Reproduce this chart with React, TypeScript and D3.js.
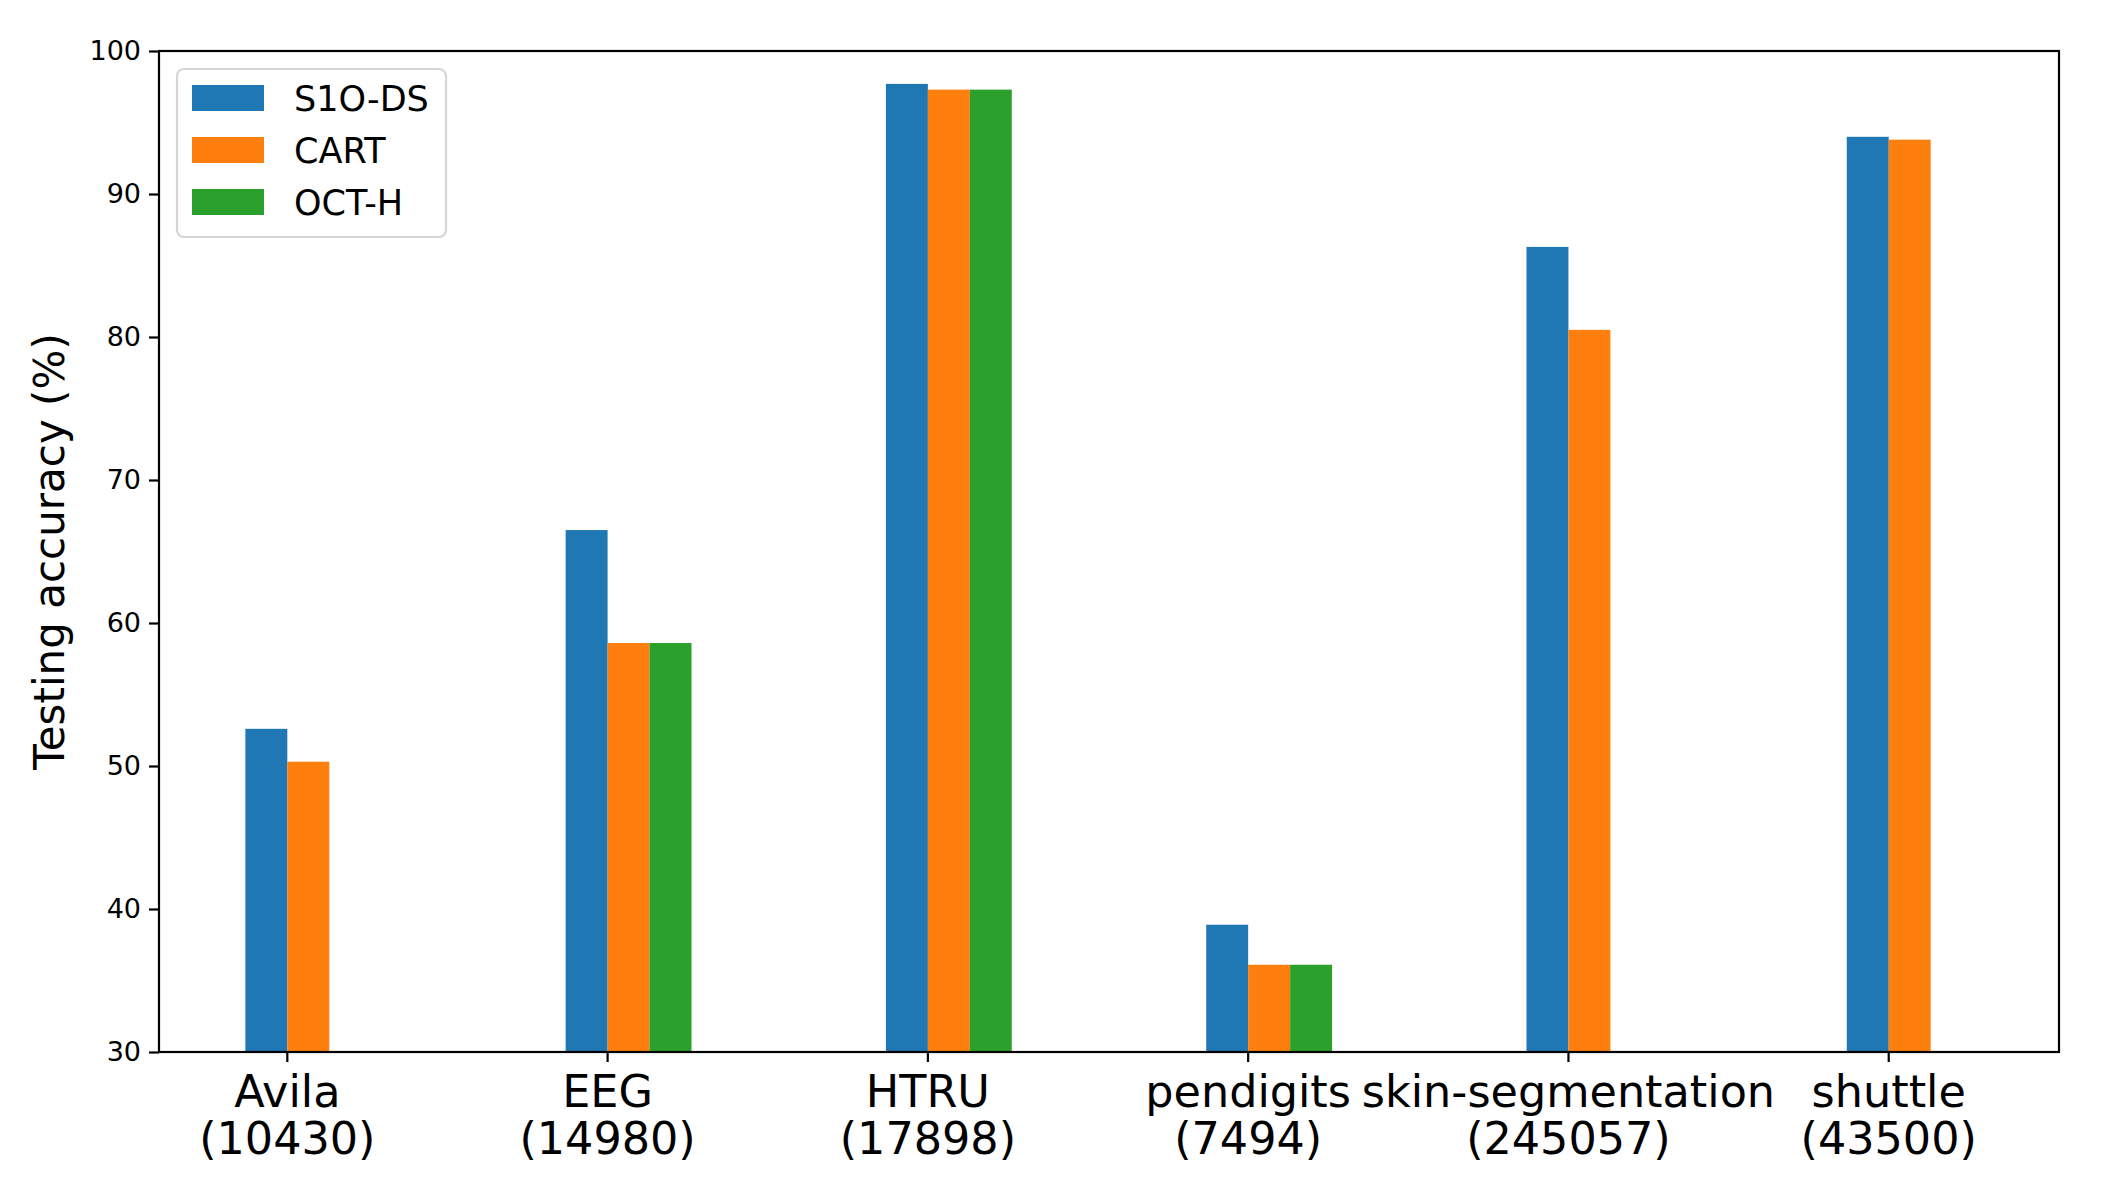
import { useEffect, useRef } from 'react';
import * as d3 from 'd3';

const datasetNames = ['Avila', 'EEG', 'HTRU', 'pendigits', 'skin-segmentation', 'shuttle'];
const sampleCounts = ['10430', '14980', '17898', '7494', '245057', '43500'];

const seriesNames = ['S1O-DS', 'CART', 'OCT-H'];
const seriesColors = ['#1f77b4', '#ff7f0e', '#2ca02c'];

// testing accuracy (%), null = no bar shown
const s1oDs = [52.6, 66.5, 97.7, 38.9, 86.3, 94.0];
const cart = [50.3, 58.6, 97.3, 36.1, 80.5, 93.8];
const octH: (number | null)[] = [null, 58.6, 97.3, 36.1, null, null];

const yTicks = [30, 40, 50, 60, 70, 80, 90, 100];

export default function App() {
    const svgRef = useRef<SVGSVGElement>(null);

    useEffect(() => {
        document.body.style.margin = '0';
        if (!svgRef.current) return;

        const W = 2120, H = 1196;
        const plot = { left: 159, right: 2059, top: 51, bottom: 1052 };
        const barW = 0.131;
        const font = 'DejaVu Sans, sans-serif';

        const svg = d3.select(svgRef.current);
        svg.selectAll('*').remove();
        svg.append('rect').attr('width', W).attr('height', H).attr('fill', '#fff');

        // matplotlib-style autoscale: 5% margin around the bar extent
        const lo = -barW, hi = datasetNames.length - 1 + 2 * barW;
        const pad = (hi - lo) * 0.05;
        const x = d3.scaleLinear().domain([lo - pad, hi + pad]).range([plot.left, plot.right]);
        const y = d3.scaleLinear().domain([30, 100]).range([plot.bottom, plot.top]);

        const series = [s1oDs, cart, octH];
        const offsets = [-barW, 0, barW];

        // Bars
        series.forEach((vals, si) => {
            const rows = vals.map((v, i) => ({ i, v })).filter(d => d.v != null) as { i: number; v: number }[];
            svg.append('g')
                .selectAll('rect')
                .data(rows)
                .join('rect')
                .attr('x', d => x(d.i + offsets[si]))
                .attr('width', d => x(d.i + offsets[si] + barW) - x(d.i + offsets[si]))
                .attr('y', d => y(d.v))
                .attr('height', d => y(30) - y(d.v))
                .attr('fill', seriesColors[si]);
        });

        // Y axis
        const yAxis = d3.axisLeft(y).tickValues(yTicks).tickSize(10).tickPadding(8).tickFormat(d3.format('d'));
        svg.append('g')
            .attr('transform', `translate(${plot.left},0)`)
            .call(yAxis)
            .call(g => g.select('.domain').remove())
            .call(g => g.selectAll('line').attr('stroke', '#000').attr('stroke-width', 2.2))
            .selectAll('text')
            .attr('font-family', font).attr('font-size', 27).attr('fill', '#000');

        // X ticks + two-line labels
        const xg = svg.append('g');
        datasetNames.forEach((name, i) => {
            const cx = x(i);
            xg.append('line')
                .attr('x1', cx).attr('x2', cx)
                .attr('y1', plot.bottom).attr('y2', plot.bottom + 10)
                .attr('stroke', '#000').attr('stroke-width', 2.2);
            const t = xg.append('text')
                .attr('text-anchor', 'middle')
                .attr('font-family', font).attr('font-size', 44.5).attr('fill', '#000');
            t.append('tspan').attr('x', cx).attr('y', plot.bottom + 55).text(name);
            t.append('tspan').attr('x', cx).attr('y', plot.bottom + 102).text(`(${sampleCounts[i]})`);
        });

        // Frame
        svg.append('rect')
            .attr('x', plot.left).attr('y', plot.top)
            .attr('width', plot.right - plot.left).attr('height', plot.bottom - plot.top)
            .attr('fill', 'none').attr('stroke', '#000').attr('stroke-width', 2.2);

        // Y label
        svg.append('text')
            .attr('transform', `translate(64,${(plot.top + plot.bottom) / 2}) rotate(-90)`)
            .attr('text-anchor', 'middle')
            .attr('font-family', font).attr('font-size', 42).attr('fill', '#000')
            .text('Testing accuracy (%)');

        // Legend
        const leg = svg.append('g').attr('transform', 'translate(177,69)');
        leg.append('rect')
            .attr('width', 269).attr('height', 168).attr('rx', 7)
            .attr('fill', '#fff').attr('fill-opacity', 0.8)
            .attr('stroke', '#d6d6d6').attr('stroke-width', 2.2);
        seriesNames.forEach((name, i) => {
            leg.append('rect')
                .attr('x', 15).attr('y', 16 + i * 52)
                .attr('width', 72).attr('height', 26)
                .attr('fill', seriesColors[i]);
            leg.append('text')
                .attr('x', 117).attr('y', 42 + i * 52)
                .attr('font-family', font).attr('font-size', 35).attr('fill', '#000')
                .text(name);
        });
    }, []);

    return <svg ref={svgRef} width={2120} height={1196} style={{ display: 'block' }} />;
}
